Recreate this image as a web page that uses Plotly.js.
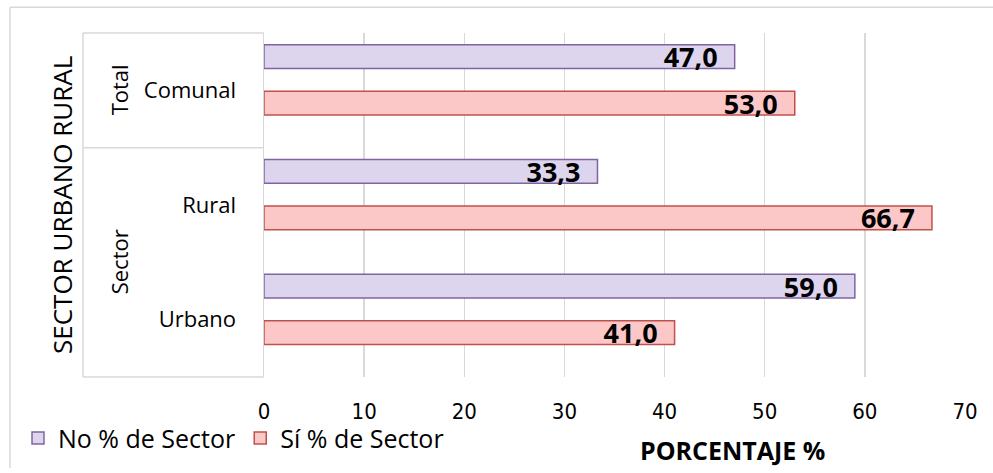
<!DOCTYPE html>
<html>
<head>
<meta charset="utf-8">
<script src="https://cdn.plot.ly/plotly-3.0.1.min.js"></script>
<style>
  body { margin: 0; background: #fff; }
  #chart { width: 993px; height: 473px; }
</style>
</head>
<body>
<div id="chart"></div>
<script>
// categories bottom to top
const categories = ['Urbano', 'Rural', 'Comunal'];
const noValues = [59.0, 33.3, 47.0];
const siValues = [41.0, 66.7, 53.0];
// group labels (left column) and the category indices they span
const groups = [
  { name: 'Sector', from: 0, to: 1 },
  { name: 'Total', from: 2, to: 2 }
];
const xTicks = [0, 10, 20, 30, 40, 50, 60, 70];

// plot area in pixels, used to place frame lines outside it
const W = 993, H = 473;
const L = 264, R = 965, T = 33, B = 381;
const px = x => (x - L) / (R - L);
const py = y => (B - y) / (B - T);

const mainFont = 'Open Sans, DejaVu Sans, sans-serif';
const narrowFont = 'DejaVu Sans Condensed, Open Sans, sans-serif';

// bars sit a little above the category centre, as in the original
const barWidth = 0.207;

const labelFont = { family: mainFont, size: 27, color: '#000', weight: 'bold' };

const traceSi = {
  type: 'bar',
  orientation: 'h',
  name: 'Sí % de Sector',
  y: categories,
  x: siValues,
  width: barWidth,
  offset: -0.216,
  marker: { color: '#fcc8c7', line: { color: '#c0504d', width: 1.5 } },
  texttemplate: '%{x:.1f}\u00a0\u00a0',
  textposition: 'inside',
  insidetextanchor: 'end',
  constraintext: 'none',
  textfont: labelFont,
  legendrank: 2,
  hoverinfo: 'x+name'
};

const traceNo = {
  type: 'bar',
  orientation: 'h',
  name: 'No % de Sector',
  y: categories,
  x: noValues,
  width: barWidth,
  offset: 0.19,
  marker: { color: '#ddd4ee', line: { color: '#8064a2', width: 1.5 } },
  texttemplate: '%{x:.1f}\u00a0\u00a0',
  textposition: 'inside',
  insidetextanchor: 'end',
  constraintext: 'none',
  textfont: labelFont,
  legendrank: 1,
  hoverinfo: 'x+name'
};

const lineStyle = { color: '#d9d9d9', width: 1.5 };
const shapes = [
  // outer chart frame (top and left)
  { type: 'line', xref: 'paper', yref: 'paper', x0: px(10), x1: px(W), y0: py(7), y1: py(7), line: lineStyle },
  { type: 'line', xref: 'paper', yref: 'paper', x0: px(10), x1: px(10), y0: py(7), y1: py(H), line: lineStyle },
  // category table
  { type: 'line', xref: 'paper', yref: 'paper', x0: px(83), x1: 0, y0: 1, y1: 1, line: lineStyle },
  { type: 'line', xref: 'paper', yref: 'paper', x0: px(83), x1: 0, y0: 0, y1: 0, line: lineStyle },
  { type: 'line', xref: 'paper', yref: 'paper', x0: px(83), x1: px(83), y0: 0, y1: 1, line: lineStyle }
];
// separators between groups
groups.slice(1).forEach(g => {
  shapes.push({ type: 'line', xref: 'paper', yref: 'y', x0: px(83), x1: 0,
    y0: g.from - 0.5, y1: g.from - 0.5, line: lineStyle });
});

const annotations = groups.map(g => ({
  xref: 'paper', yref: 'y',
  x: px(102), y: (g.from + g.to) / 2,
  text: g.name, textangle: -90, showarrow: false,
  font: { family: mainFont, size: 22, color: '#000' }
}));
annotations.push({
  xref: 'paper', yref: 'paper', x: px(62), xanchor: 'center', y: 0.5,
  text: 'SECTOR URBANO RURAL', textangle: -90, showarrow: false,
  font: { family: mainFont, size: 26, color: '#000' }
});
annotations.push({
  xref: 'paper', yref: 'paper', x: px(732), xanchor: 'center', y: py(455), yanchor: 'middle',
  text: '<b>PORCENTAJE %</b>', showarrow: false,
  font: { family: mainFont, size: 25, color: '#000' }
});

const layout = {
  width: W,
  height: H,
  margin: { l: L, r: W - R, t: T, b: H - B },
  paper_bgcolor: '#fff',
  plot_bgcolor: '#fff',
  separators: ', ',
  barmode: 'overlay',
  font: { family: mainFont, color: '#000' },
  xaxis: {
    range: [0, 70],
    tickvals: xTicks,
    showgrid: true,
    gridcolor: '#d9d9d9',
    gridwidth: 1.5,
    zeroline: false,
    showline: false,
    ticks: '',
    ticklabelstandoff: 19,
    tickfont: { family: narrowFont, size: 22, color: '#000' },
    fixedrange: true
  },
  yaxis: {
    type: 'category',
    categoryorder: 'array',
    categoryarray: categories,
    range: [-0.5, categories.length - 0.5],
    showgrid: false,
    zeroline: false,
    showline: true,
    linecolor: '#d9d9d9',
    linewidth: 1.5,
    ticks: '',
    ticklabelstandoff: 22,
    tickfont: { family: mainFont, size: 22, color: '#000' },
    fixedrange: true
  },
  showlegend: true,
  legend: {
    orientation: 'h',
    x: px(18), xanchor: 'left',
    y: py(443), yanchor: 'middle',
    bgcolor: 'rgba(0,0,0,0)',
    font: { family: mainFont, size: 25, color: '#000' },
    itemwidth: 30,
    tracegroupgap: 0
  },
  shapes: shapes,
  annotations: annotations
};

Plotly.newPlot('chart', [traceSi, traceNo], layout, { displayModeBar: false, staticPlot: true });
</script>
</body>
</html>
